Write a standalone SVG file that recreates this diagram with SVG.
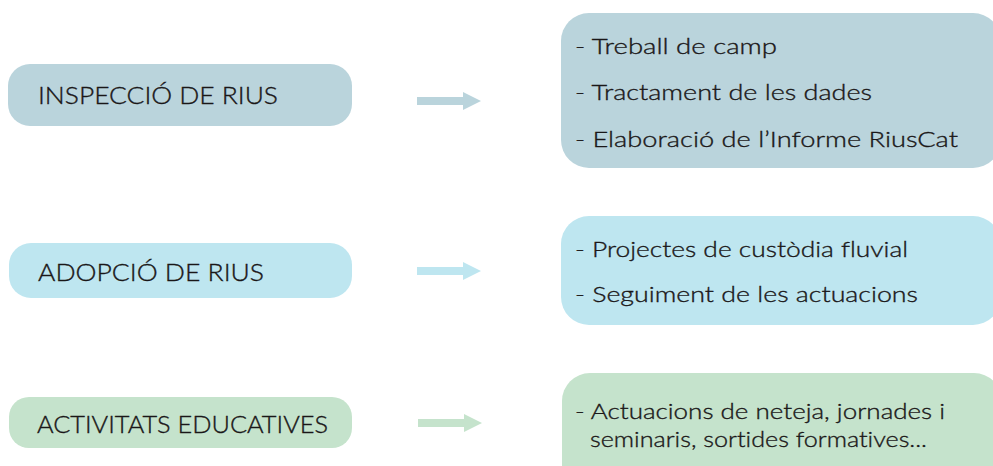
<svg xmlns="http://www.w3.org/2000/svg" width="993" height="466" viewBox="0 0 993 466">
<style>
text{font-variant-ligatures:none;font-feature-settings:"liga" 0,"clig" 0,"dlig" 0,"hlig" 0}
.lbl{font-family:Lato,"Liberation Sans",sans-serif;font-weight:300;font-size:24px;fill:#1a1718;stroke:#1a1718;stroke-width:0.35}
.item{font-family:Lato,"Liberation Sans",sans-serif;font-weight:300;font-size:22px;fill:#1a1718;stroke:#1a1718;stroke-width:0.35}
.c1{fill:#bad4dc}
.c2{fill:#bee6f0}
.c3{fill:#c5e3cc}
</style>
<rect width="993" height="466" fill="#ffffff"/>
<g id="connectors">
<polygon class="c1" points="417,97 463,97 463,92 481,101 463,110 463,105 417,105"/>
<polygon class="c2" points="417,267 463,267 463,262 481,271 463,280 463,275 417,275"/>
<polygon class="c3" points="418,419 464,419 464,414 482,423 464,432 464,427 418,427"/>
</g>
<g id="inspeccio">
<rect class="c1" x="8" y="64" width="344" height="62" rx="22"/>
<text class="lbl" x="38" y="104" textLength="240" lengthAdjust="spacingAndGlyphs">INSPECCIÓ DE RIUS</text>
</g>
<g id="inspeccio-detail">
<rect class="c1" x="561" y="13" width="440" height="155" rx="28"/>
<text class="item" x="575" y="54" textLength="202" lengthAdjust="spacingAndGlyphs">- Treball de camp</text>
<text class="item" x="575" y="100" textLength="297" lengthAdjust="spacingAndGlyphs">- Tractament de les dades</text>
<text class="item" x="575" y="147" textLength="383" lengthAdjust="spacingAndGlyphs">- Elaboració de l’Informe RiusCat</text>
</g>
<g id="adopcio">
<rect class="c2" x="9" y="243" width="343" height="55" rx="22"/>
<text class="lbl" x="38" y="281" textLength="226" lengthAdjust="spacingAndGlyphs">ADOPCIÓ DE RIUS</text>
</g>
<g id="adopcio-detail">
<rect class="c2" x="561" y="216" width="440" height="109" rx="28"/>
<text class="item" x="575" y="257" textLength="333" lengthAdjust="spacingAndGlyphs">- Projectes de custòdia fluvial</text>
<text class="item" x="575" y="302" textLength="343" lengthAdjust="spacingAndGlyphs">- Seguiment de les actuacions</text>
</g>
<g id="activitats">
<rect class="c3" x="9" y="397" width="343" height="51" rx="20"/>
<text class="lbl" x="37" y="433" textLength="291" lengthAdjust="spacingAndGlyphs">ACTIVITATS EDUCATIVES</text>
</g>
<g id="activitats-detail">
<rect class="c3" x="562" y="373" width="440" height="120" rx="28"/>
<text class="item" x="575" y="419" textLength="370" lengthAdjust="spacingAndGlyphs">- Actuacions de neteja, jornades i</text>
<text class="item" x="590" y="447" textLength="337" lengthAdjust="spacingAndGlyphs">seminaris, sortides formatives...</text>
</g>
</svg>
